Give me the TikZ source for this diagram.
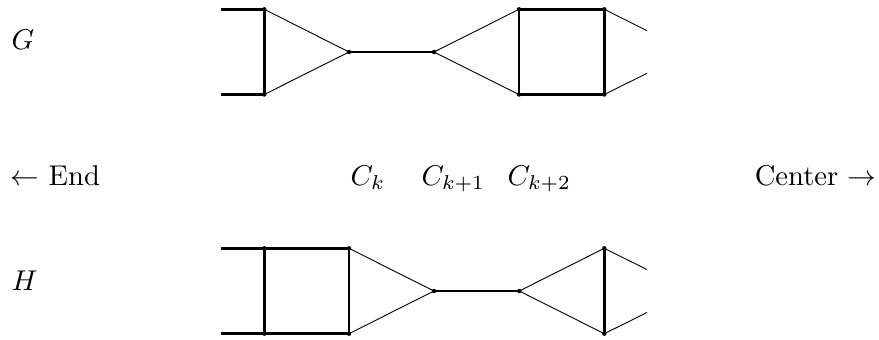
\documentclass[tikz,border=0pt]{standalone}
\begin{document}
\begin{tikzpicture}[x=0.5pt,y=-0.5pt,
  dot/.style={circle,fill,inner sep=0pt,minimum size=2.2pt},
  heavy/.style={line width=1.4pt},
  mid/.style={line width=0.9pt},
  light/.style={line width=0.45pt},
  lbl/.style={inner sep=0pt,scale=1.43,transform shape}]
\useasboundingbox (0,0) rectangle (879,339);
% ---------- G ----------
\coordinate (gs1) at (221,9.3);
\coordinate (gs2) at (221,94.5);
\node[dot] (ga) at (264.3,9.3) {};
\node[dot] (gb) at (264.3,94.5) {};
\node[dot] (gc) at (349,52) {};
\node[dot] (gd) at (434,52) {};
\node[dot] (ge) at (519,9.3) {};
\node[dot] (gf) at (519,94.5) {};
\node[dot] (gg) at (604.3,9.3) {};
\node[dot] (gh) at (604.3,94.5) {};
\coordinate (gr1) at (647,30.7);
\coordinate (gr2) at (647,73.3);
\draw[heavy] (gs1) -- (ga.center) -- (gb.center) -- (gs2);
\draw[light] (ga.center) -- (gc.center) -- (gb.center);
\draw[mid] (gc.center) -- (gd.center);
\draw[light] (ge.center) -- (gd.center) -- (gf.center);
\draw[heavy] (ge.center) -- (gg.center) -- (gh.center) -- (gf.center) -- cycle;
\draw[light] (gg.center) -- (gr1);
\draw[light] (gh.center) -- (gr2);
% ---------- H ----------
\coordinate (hs1) at (221,248.3);
\coordinate (hs2) at (221,333.7);
\node[dot] (ha) at (264.3,248.3) {};
\node[dot] (hb) at (264.3,333.7) {};
\node[dot] (hc) at (349,248.3) {};
\node[dot] (hd) at (349,333.7) {};
\node[dot] (he) at (434,291) {};
\node[dot] (hf) at (519.3,291) {};
\node[dot] (hg) at (604.3,248.3) {};
\node[dot] (hh) at (604.3,333.7) {};
\coordinate (hr1) at (647,269.6);
\coordinate (hr2) at (647,312.4);
\draw[heavy] (hs1) -- (ha.center) -- (hc.center) -- (hd.center) -- (hb.center) -- (hs2);
\draw[heavy] (ha.center) -- (hb.center);
\draw[light] (hc.center) -- (he.center) -- (hd.center);
\draw[mid] (he.center) -- (hf.center);
\draw[light] (hg.center) -- (hf.center) -- (hh.center);
\draw[heavy] (hg.center) -- (hh.center);
\draw[light] (hg.center) -- (hr1);
\draw[light] (hh.center) -- (hr2);
% ---------- labels ----------
\node[lbl,anchor=base west] (lG) at (11,49) {$G$};
\node[lbl,anchor=base west] (lH) at (11,290.7) {$H$};
\node[lbl,anchor=base west] (lEnd) at (10,185.5) {$\leftarrow$ End};
\node[lbl,anchor=base west] (lCk) at (350,185.5) {$C_k$};
\node[lbl,anchor=base west] (lCk1) at (421,185.5) {$C_{k+1}$};
\node[lbl,anchor=base west] (lCk2) at (507,185.5) {$C_{k+2}$};
\node[lbl,anchor=base east] (lCenter) at (877,185.5) {Center $\rightarrow$};
\end{tikzpicture}
\end{document}
